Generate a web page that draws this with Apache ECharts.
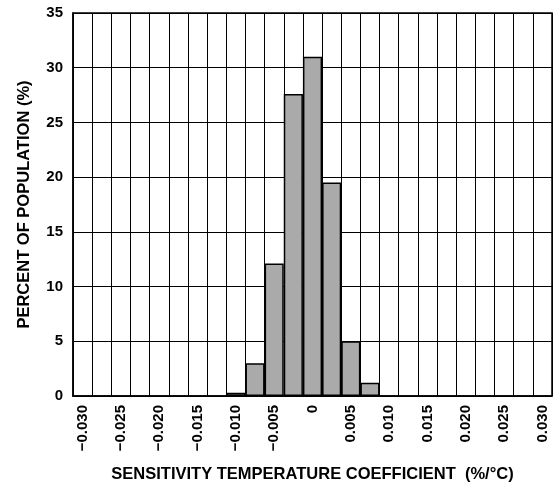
<!DOCTYPE html>
<html>
<head>
<meta charset="utf-8">
<script src="https://cdn.jsdelivr.net/npm/echarts@6/dist/echarts.min.js"></script>
<style>
html,body{margin:0;padding:0;background:#fff;}
#chart{width:560px;height:487px;}
</style>
</head>
<body>
<div id="chart"></div>
<script>
// Column centers of the histogram (sensitivity temperature coefficient, %/°C)
const categories = [-0.03, -0.0275, -0.025, -0.0225, -0.02, -0.0175, -0.015, -0.0125, -0.01, -0.0075,
  -0.005, -0.0025, 0, 0.0025, 0.005, 0.0075, 0.01, 0.0125, 0.015, 0.0175, 0.02, 0.0225, 0.025, 0.0275, 0.03];
// Bins that hold population and their percentages
const binCenters = [-0.01, -0.0075, -0.005, -0.0025, 0, 0.0025, 0.005, 0.0075];
const percent = [0.3, 3, 12.1, 27.6, 31, 19.5, 5, 1.2];
const yTicks = [0, 5, 10, 15, 20, 25, 30, 35];

const seriesData = categories.map(c => {
  const i = binCenters.findIndex(b => Math.abs(b - c) < 1e-9);
  return i >= 0 ? percent[i] : '-';
});

const font = 'Liberation Sans, Arial, sans-serif';
const chart = echarts.init(document.getElementById('chart'), null, {renderer: 'canvas'});
chart.setOption({
  animation: false,
  grid: {left: 73, right: 8, top: 13, bottom: 91, outerBoundsMode: 'none', containLabel: false, show: true, borderColor: '#000', borderWidth: 1.5, backgroundColor: 'transparent'},
  xAxis: {
    type: 'category',
    data: categories,
    boundaryGap: true,
    axisLine: {show: true, lineStyle: {color: '#000', width: 1.5}},
    axisTick: {show: false},
    splitLine: {show: true, interval: 0, lineStyle: {color: '#000', width: 1}},
    axisLabel: {
      interval: 1,
      rotate: 90,
      margin: 9,
      color: '#000',
      fontFamily: font,
      fontWeight: 'bold',
      fontSize: 15,
      formatter: v => {
        const n = Number(v);
        if (n === 0) return '0';
        const s = Math.abs(n).toFixed(3);
        return n < 0 ? '\u2212' + s : s;
      }
    },
    name: 'SENSITIVITY TEMPERATURE COEFFICIENT  (%/°C)',
    nameLocation: 'middle',
    nameGap: 70,
    nameTextStyle: {color: '#000', fontFamily: font, fontWeight: 'bold', fontSize: 16.5}
  },
  yAxis: {
    type: 'value',
    min: yTicks[0],
    max: yTicks[yTicks.length - 1],
    interval: 5,
    axisLine: {show: true, lineStyle: {color: '#000', width: 1.5}},
    axisTick: {show: false},
    splitLine: {show: true, lineStyle: {color: '#000', width: 1}},
    axisLabel: {color: '#000', fontFamily: font, fontWeight: 'bold', fontSize: 15, margin: 10},
    name: 'PERCENT OF POPULATION (%)',
    nameLocation: 'middle',
    nameGap: 40,
    nameTextStyle: {color: '#000', fontFamily: font, fontWeight: 'bold', fontSize: 16.5}
  },
  series: [{
    type: 'bar',
    data: seriesData,
    barCategoryGap: 0,
    barGap: 0,
    itemStyle: {color: '#aaaaaa', borderColor: '#000', borderWidth: 1.5}
  }]
});
</script>
</body>
</html>
